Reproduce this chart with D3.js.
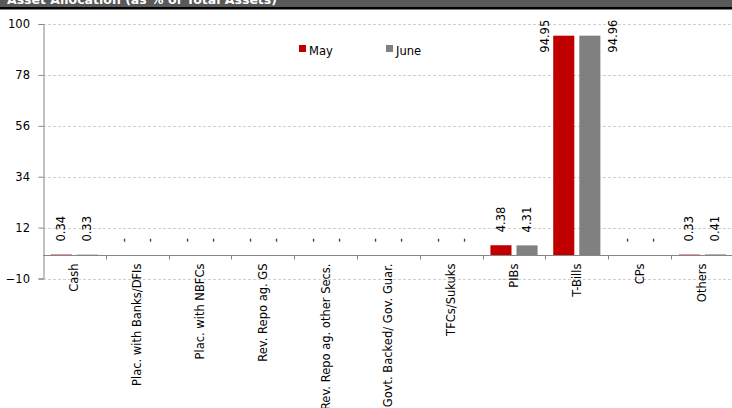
<!DOCTYPE html>
<html>
<head>
<meta charset="utf-8">
<script src="https://cdn.jsdelivr.net/npm/d3@7"></script>
<style>
  html, body { margin: 0; padding: 0; background: #fff; }
  svg { display: block; }
  text { font-family: "DejaVu Sans", Verdana, sans-serif; }
</style>
</head>
<body>
<svg id="chart" width="732" height="408"></svg>
<script>
const title = "Asset Allocation (as % of Total Assets)";
const categories = ["Cash", "Plac. with Banks/DFIs", "Plac. with NBFCs", "Rev. Repo ag. GS",
  "Rev. Repo ag. other Secs.", "Govt. Backed/ Gov. Guar.", "TFCs/Sukuks", "PIBs", "T-Bills", "CPs", "Others"];
const seriesNames = ["May", "June"];
const mayValues  = [0.34, 0, 0, 0, 0, 0, 0, 4.38, 94.95, 0, 0.33];
const juneValues = [0.33, 0, 0, 0, 0, 0, 0, 4.31, 94.96, 0, 0.41];
const yTicks = [-10, 12, 34, 56, 78, 100];
const colors = ["#c00000", "#808080"];

const svg = d3.select("#chart");
const W = 732, H = 408;
const m = { left: 43, top: 24, bottom: 278.5 };
const plotRight = 43 + 11 * 62.8;

// header
svg.append("rect").attr("x", 0).attr("y", 0).attr("width", W).attr("height", 7.5).attr("fill", "#595959");
svg.append("rect").attr("x", 0).attr("y", 7).attr("width", W).attr("height", 2.5).attr("fill", "#000");
svg.append("text").attr("x", 277).attr("y", 4).attr("text-anchor", "end")
  .attr("fill", "#fff").attr("font-weight", "bold").attr("font-size", 12.5).text(title);

const x = d3.scaleBand().domain(categories).range([m.left, plotRight]).paddingInner(0).paddingOuter(0);
const xs = d3.scaleBand().domain(seriesNames).range([0, x.bandwidth()]).paddingInner(0.192).paddingOuter(0.30);
const y = d3.scaleLinear().domain([-10, 100]).range([m.bottom, m.top]);

// gridlines
svg.append("g").selectAll("line").data(yTicks).join("line")
  .attr("x1", m.left).attr("x2", W)
  .attr("y1", d => Math.round(y(d)) + 0.5).attr("y2", d => Math.round(y(d)) + 0.5)
  .attr("stroke", "#d0d0d0").attr("stroke-dasharray", "3,2").attr("stroke-width", 1);

// y axis
const yAxis = d3.axisLeft(y).tickValues(yTicks).tickSize(5).tickPadding(8.5);
const gy = svg.append("g").attr("transform", `translate(${m.left + 0.5},0)`).call(yAxis);
gy.select(".domain").attr("stroke", "#868686");
gy.selectAll(".tick line").attr("stroke", "#868686");
gy.selectAll(".tick text").attr("font-size", 11.5).attr("fill", "#000")
  .attr("font-family", '"DejaVu Sans", Verdana, sans-serif');

// bars
const data = categories.map((c, i) => ({ cat: c, vals: [mayValues[i], juneValues[i]] }));
const barData = [];
data.forEach(d => d.vals.forEach((v, j) => barData.push({ cat: d.cat, s: seriesNames[j], j, v })));

svg.append("g").selectAll("rect").data(barData.filter(d => d.v > 0)).join("rect")
  .attr("x", d => x(d.cat) + xs(d.s))
  .attr("width", xs.bandwidth())
  .attr("y", d => y(d.v))
  .attr("height", d => y(0) - y(d.v))
  .attr("fill", d => colors[d.j]);

// zero axis
const y0 = Math.round(y(0)) + 0.5;
svg.append("line").attr("x1", m.left).attr("x2", W).attr("y1", y0).attr("y2", y0)
  .attr("stroke", "#868686");
svg.append("g").selectAll("line").data(categories.slice(1)).join("line")
  .attr("x1", d => Math.round(x(d)) + 0.5).attr("x2", d => Math.round(x(d)) + 0.5)
  .attr("y1", y0).attr("y2", y0 + 4).attr("stroke", "#868686");

// category labels
svg.append("g").selectAll("text").data(categories).join("text")
  .attr("transform", d => `translate(${x(d) + x.bandwidth() / 2},${y0 + 8}) rotate(-90)`)
  .attr("text-anchor", "end").attr("dy", "0.35em").attr("font-size", 11.5).attr("fill", "#000")
  .text(d => d);

// value labels
svg.append("g").selectAll("text").data(barData).join("text")
  .each(function(d) {
    const bx = x(d.cat) + xs(d.s);
    const top = y(d.v);
    const label = d.v > 0 ? d.v.toFixed(2) : "-";
    let lx = bx + xs.bandwidth() / 2, ly = top - 13;
    if (ly - 32 < m.top) {
      lx = d.j === 0 ? bx - 8 : bx + xs.bandwidth() + 13;
      ly = top + 17;
    }
    d3.select(this)
      .attr("transform", `translate(${lx},${ly}) rotate(-90)`)
      .attr("text-anchor", "start").attr("dy", "0.35em")
      .attr("font-size", 11.5).attr("fill", "#000").text(label);
  });

// legend
const lg = svg.append("g");
const legendX = [299, 386];
seriesNames.forEach((s, i) => {
  lg.append("rect").attr("x", legendX[i]).attr("y", 45).attr("width", 7).attr("height", 7).attr("fill", colors[i]);
  lg.append("text").attr("x", legendX[i] + 10).attr("y", 55).attr("font-size", 11.5).attr("fill", "#000").text(s);
});
</script>
</body>
</html>
